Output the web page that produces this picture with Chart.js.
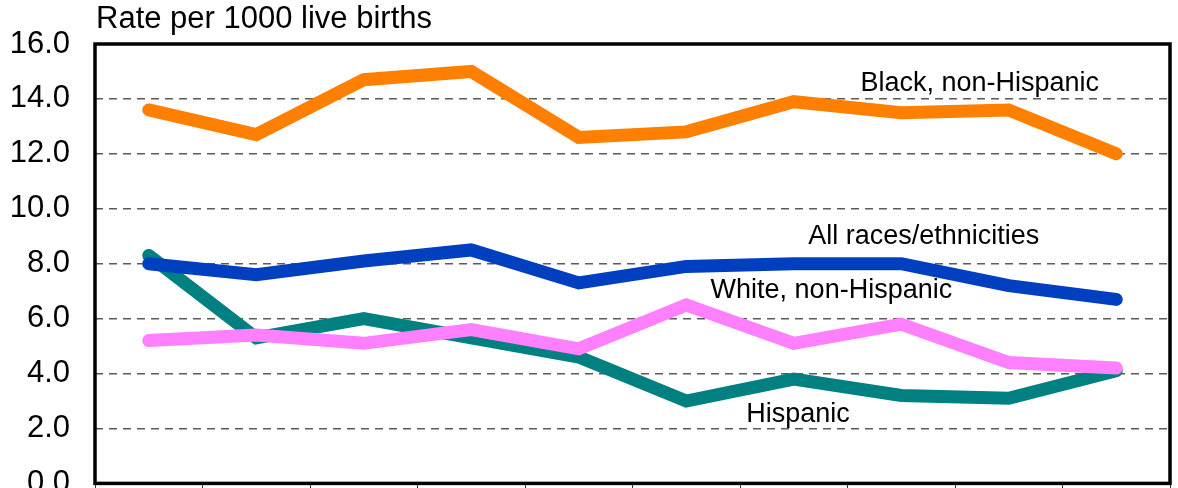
<!DOCTYPE html>
<html>
<head>
<meta charset="utf-8">
<script src="https://cdn.jsdelivr.net/npm/chart.js@4/dist/chart.umd.min.js"></script>
<style>
  html, body { margin: 0; padding: 0; background: #fff; overflow: hidden; }
  canvas { display: block; }
</style>
</head>
<body>
<canvas id="rateChart" width="1178" height="527"></canvas>
<script>
// categories (x labels are cut off in the picture)
const years = ['1995', '1996', '1997', '1998', '1999', '2000', '2001', '2002', '2003', '2004'];

// rates per 1000 live births
const allRaces = [8.0, 7.6, 8.1, 8.5, 7.3, 7.9, 8.0, 8.0, 7.2, 6.7];
const blackNH  = [13.6, 12.7, 14.7, 15.0, 12.6, 12.8, 13.9, 13.5, 13.6, 12.0];
const whiteNH  = [5.2, 5.4, 5.1, 5.6, 4.9, 6.5, 5.1, 5.8, 4.4, 4.2];
const hispanic = [8.3, 5.3, 6.0, 5.3, 4.6, 3.0, 3.8, 3.2, 3.1, 4.1];

// y axis
const yTicks = [0, 2, 4, 6, 8, 10, 12, 14, 16];

// in-chart series labels (category index, value)
const seriesLabels = ['Black, non-Hispanic', 'All races/ethnicities', 'White, non-Hispanic', 'Hispanic'];
const labelIdx = [7.73, 7.21, 6.35, 6.04];
const labelVal = [14.55, 8.98, 7.03, 2.51];

const FONT = "'Liberation Sans', Arial, sans-serif";

// frame, title and series labels
const decorPlugin = {
    id: 'decor',
    afterDraw(chart) {
        const { ctx, chartArea, scales } = chart;
        ctx.save();
        ctx.strokeStyle = '#000';
        ctx.lineWidth = 3.5;
        ctx.strokeRect(chartArea.left, chartArea.top, chartArea.right - chartArea.left, chartArea.bottom - chartArea.top);

        ctx.fillStyle = '#000';
        ctx.textBaseline = 'middle';
        ctx.textAlign = 'left';
        ctx.font = '31px ' + FONT;
        ctx.fillText('Rate per 1000 live births', chartArea.left + 1, 19);

        ctx.font = '27px ' + FONT;
        ctx.textAlign = 'center';
        seriesLabels.forEach((txt, i) => {
            const x = scales.x.getPixelForValue(labelIdx[i]);
            const y = scales.y.getPixelForValue(labelVal[i]);
            ctx.fillText(txt, x, y);
        });
        ctx.restore();
    }
};

function lineSet(label, data, color) {
    return {
        label: label,
        data: data,
        borderColor: color,
        backgroundColor: color,
        borderWidth: 13,
        borderCapStyle: 'round',
        borderJoinStyle: 'miter',
        pointRadius: 0,
        tension: 0,
        fill: false
    };
}

const ctx = document.getElementById('rateChart').getContext('2d');
new Chart(ctx, {
    type: 'line',
    data: {
        labels: years,
        datasets: [
            lineSet('Black, non-Hispanic', blackNH, '#FF8000'),
            lineSet('All races/ethnicities', allRaces, '#0040C0'),
            lineSet('White, non-Hispanic', whiteNH, '#FF80FF'),
            lineSet('Hispanic', hispanic, '#008080')
        ]
    },
    options: {
        responsive: false,
        animation: false,
        layout: {
            padding: { top: 44, left: 0, right: 8, bottom: 21 }
        },
        plugins: {
            legend: { display: false },
            tooltip: { enabled: false },
            title: { display: false }
        },
        scales: {
            x: {
                offset: true,
                grid: {
                    offset: true,
                    drawOnChartArea: false,
                    drawTicks: true,
                    tickLength: 6,
                    color: '#333',
                    lineWidth: 1
                },
                border: { display: false },
                ticks: { display: false }
            },
            y: {
                min: 0,
                max: 16,
                afterBuildTicks: axis => {
                    axis.ticks = yTicks.map(v => ({ value: v }));
                },
                afterFit: axis => {
                    axis.width = 95;
                },
                grid: {
                    color: '#5a5a5a',
                    lineWidth: 1.5,
                    drawTicks: false
                },
                border: { display: false, dash: [8, 6] },
                ticks: {
                    padding: 25,
                    color: '#000',
                    font: { family: FONT, size: 31 },
                    callback: value => value.toFixed(1)
                }
            }
        }
    },
    plugins: [decorPlugin]
});
</script>
</body>
</html>
